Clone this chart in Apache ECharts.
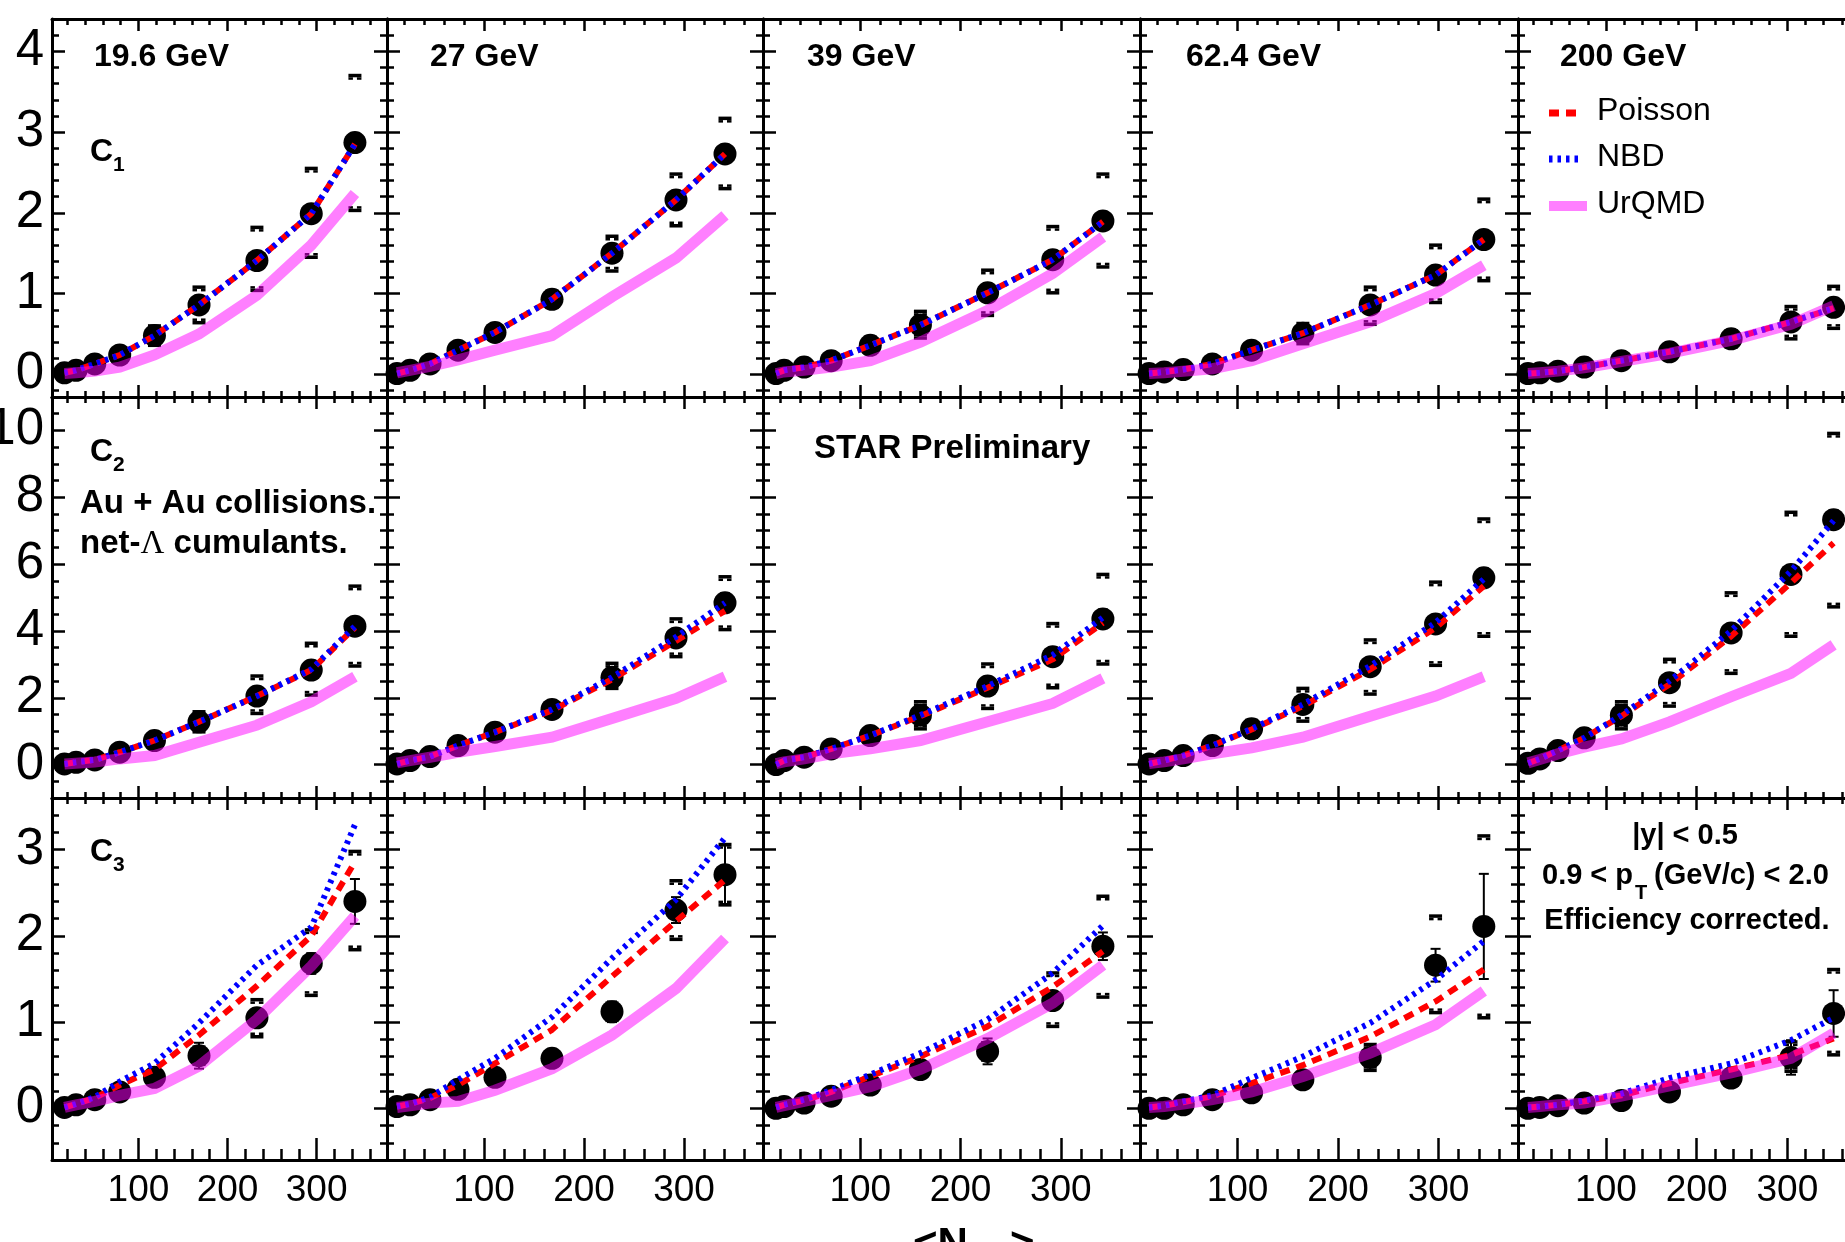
<!DOCTYPE html>
<html><head><meta charset="utf-8">
<script src="https://cdn.jsdelivr.net/npm/echarts@6/dist/echarts.min.js"></script>
<style>html,body{margin:0;padding:0;background:#fff}#c{width:1845px;height:1242px}</style>
</head><body><div id="c"></div>
<script>
// ---------------- data ----------------
const ENERGIES = ['19.6 GeV', '27 GeV', '39 GeV', '62.4 GeV', '200 GeV'];
const CUMULANTS = ['1', '2', '3'];
const X_TICKS = [100, 200, 300];
// <Npart> per energy (9 centralities)
const NPART = [
  [17, 30, 51, 79, 118, 168, 233, 294, 343],
  [13, 26, 46, 74, 111, 168, 228, 292, 341],
  [16, 24, 44, 71, 110, 160, 227, 292, 342],
  [12, 27, 46, 75, 114, 165, 232, 297, 345],
  [14, 27, 47, 76, 117, 170, 238, 304, 351]
];
// C1
const C1_Y = [
  [0.02, 0.05, 0.13, 0.24, 0.48, 0.86, 1.41, 1.99, 2.87],
  [0.01, 0.05, 0.13, 0.30, 0.52, 0.93, 1.50, 2.16, 2.73],
  [0.01, 0.05, 0.09, 0.17, 0.36, 0.61, 1.01, 1.42, 1.90],
  [0.01, 0.03, 0.06, 0.13, 0.30, 0.51, 0.86, 1.23, 1.67],
  [0.01, 0.02, 0.04, 0.09, 0.17, 0.28, 0.44, 0.65, 0.83]
];
const C1_STAT = [
  [0.002, 0.004, 0.008, 0.015, 0.10, 0.04, 0.05, 0.06, 0.07],
  [0.002, 0.004, 0.008, 0.015, 0.03, 0.04, 0.05, 0.06, 0.07],
  [0.002, 0.004, 0.008, 0.015, 0.03, 0.04, 0.05, 0.06, 0.07],
  [0.002, 0.004, 0.008, 0.015, 0.03, 0.04, 0.05, 0.06, 0.07],
  [0.002, 0.004, 0.008, 0.015, 0.03, 0.04, 0.05, 0.06, 0.07]
];
const C1_SYS_UP = [
  [0.005, 0.01, 0.03, 0.06, 0.12, 0.22, 0.41, 0.56, 0.83],
  [0.005, 0.01, 0.03, 0.06, 0.08, 0.10, 0.21, 0.32, 0.44],
  [0.005, 0.01, 0.03, 0.05, 0.10, 0.17, 0.28, 0.41, 0.58],
  [0.005, 0.01, 0.02, 0.04, 0.07, 0.12, 0.22, 0.37, 0.50],
  [0.005, 0.01, 0.01, 0.02, 0.04, 0.06, 0.10, 0.19, 0.26]
];
const C1_SYS_DN = [
  [0.005, 0.01, 0.03, 0.06, 0.12, 0.22, 0.37, 0.54, 0.84],
  [0.005, 0.01, 0.03, 0.06, 0.08, 0.10, 0.22, 0.32, 0.43],
  [0.005, 0.01, 0.03, 0.05, 0.10, 0.16, 0.28, 0.41, 0.57],
  [0.005, 0.01, 0.02, 0.04, 0.07, 0.13, 0.24, 0.34, 0.51],
  [0.005, 0.01, 0.01, 0.02, 0.04, 0.06, 0.10, 0.21, 0.26]
];
const C1_POISSON = [
  [0.02, 0.05, 0.13, 0.24, 0.48, 0.86, 1.41, 1.99, 2.85],
  [0.01, 0.05, 0.13, 0.30, 0.52, 0.93, 1.50, 2.16, 2.73],
  [0.01, 0.05, 0.09, 0.17, 0.36, 0.61, 1.01, 1.42, 1.89],
  [0.01, 0.03, 0.06, 0.13, 0.30, 0.51, 0.86, 1.23, 1.67],
  [0.01, 0.02, 0.04, 0.09, 0.17, 0.28, 0.44, 0.65, 0.82]
];
const C1_NBD = [
  [0.02, 0.05, 0.13, 0.24, 0.48, 0.86, 1.41, 1.99, 2.85],
  [0.01, 0.05, 0.13, 0.30, 0.52, 0.93, 1.50, 2.16, 2.73],
  [0.01, 0.05, 0.09, 0.17, 0.36, 0.61, 1.01, 1.42, 1.89],
  [0.01, 0.03, 0.06, 0.13, 0.30, 0.51, 0.86, 1.23, 1.67],
  [0.01, 0.02, 0.04, 0.09, 0.17, 0.28, 0.44, 0.65, 0.82]
];
const C1_URQMD = [
  [0.01, 0.02, 0.04, 0.09, 0.24, 0.50, 0.98, 1.60, 2.24],
  [0.02, 0.05, 0.10, 0.18, 0.30, 0.48, 0.96, 1.44, 1.97],
  [0.01, 0.03, 0.05, 0.09, 0.17, 0.40, 0.79, 1.25, 1.70],
  [0.01, 0.02, 0.04, 0.07, 0.17, 0.38, 0.65, 1.00, 1.35],
  [0.01, 0.02, 0.04, 0.08, 0.16, 0.26, 0.42, 0.62, 0.85]
];
// C2
const C2_Y = [
  [0.02, 0.07, 0.14, 0.37, 0.72, 1.28, 2.05, 2.83, 4.14],
  [0.02, 0.12, 0.24, 0.57, 0.97, 1.65, 2.61, 3.79, 4.84],
  [0.00, 0.12, 0.22, 0.47, 0.87, 1.48, 2.35, 3.23, 4.36],
  [0.02, 0.12, 0.27, 0.57, 1.07, 1.80, 2.93, 4.21, 5.59],
  [0.04, 0.17, 0.42, 0.80, 1.48, 2.45, 3.94, 5.69, 7.33]
];
const C2_STAT = [
  [0.005, 0.01, 0.02, 0.04, 0.08, 0.30, 0.15, 0.20, 0.25],
  [0.005, 0.01, 0.02, 0.04, 0.08, 0.12, 0.18, 0.22, 0.28],
  [0.005, 0.01, 0.02, 0.04, 0.08, 0.12, 0.18, 0.22, 0.28],
  [0.005, 0.01, 0.02, 0.04, 0.25, 0.12, 0.18, 0.22, 0.28],
  [0.005, 0.01, 0.02, 0.04, 0.08, 0.12, 0.18, 0.22, 0.28]
];
const C2_SYS_UP = [
  [0.01, 0.03, 0.05, 0.08, 0.15, 0.30, 0.60, 0.80, 1.20],
  [0.01, 0.03, 0.05, 0.08, 0.12, 0.20, 0.42, 0.57, 0.78],
  [0.01, 0.03, 0.05, 0.10, 0.20, 0.40, 0.66, 0.99, 1.33],
  [0.01, 0.03, 0.06, 0.12, 0.25, 0.48, 0.80, 1.25, 1.76],
  [0.01, 0.04, 0.10, 0.20, 0.40, 0.70, 1.20, 1.86, 2.58]
];
const C2_SYS_DN = [
  [0.01, 0.03, 0.05, 0.08, 0.15, 0.30, 0.52, 0.75, 1.19],
  [0.01, 0.03, 0.05, 0.08, 0.12, 0.20, 0.33, 0.56, 0.80],
  [0.01, 0.03, 0.05, 0.10, 0.20, 0.41, 0.67, 0.93, 1.35],
  [0.01, 0.03, 0.06, 0.12, 0.25, 0.50, 0.82, 1.24, 1.75],
  [0.01, 0.04, 0.10, 0.20, 0.41, 0.70, 1.21, 1.85, 2.61]
];
const C2_POISSON = [
  [0.02, 0.07, 0.14, 0.37, 0.72, 1.28, 2.05, 2.83, 4.10],
  [0.02, 0.12, 0.24, 0.57, 0.97, 1.62, 2.55, 3.70, 4.60],
  [0.00, 0.12, 0.22, 0.47, 0.87, 1.45, 2.30, 3.15, 4.24],
  [0.02, 0.12, 0.27, 0.57, 1.05, 1.75, 2.85, 4.09, 5.34],
  [0.04, 0.17, 0.42, 0.80, 1.45, 2.40, 3.84, 5.44, 6.63]
];
const C2_NBD = [
  [0.02, 0.07, 0.14, 0.37, 0.72, 1.28, 2.05, 2.85, 4.14],
  [0.02, 0.12, 0.24, 0.57, 0.97, 1.65, 2.61, 3.82, 4.84],
  [0.00, 0.12, 0.22, 0.47, 0.87, 1.48, 2.35, 3.28, 4.40],
  [0.02, 0.12, 0.27, 0.57, 1.07, 1.80, 2.95, 4.25, 5.55],
  [0.04, 0.17, 0.42, 0.80, 1.48, 2.50, 4.00, 5.79, 7.30]
];
const C2_URQMD = [
  [0.02, 0.04, 0.08, 0.17, 0.27, 0.67, 1.18, 1.88, 2.63],
  [0.05, 0.12, 0.22, 0.37, 0.54, 0.82, 1.38, 1.98, 2.63],
  [0.03, 0.08, 0.17, 0.32, 0.47, 0.72, 1.28, 1.83, 2.58],
  [0.03, 0.08, 0.17, 0.32, 0.50, 0.82, 1.45, 2.05, 2.63],
  [0.05, 0.15, 0.32, 0.52, 0.77, 1.28, 2.03, 2.73, 3.58]
];
// C3
const C3_Y = [
  [0.01, 0.04, 0.10, 0.19, 0.36, 0.61, 1.05, 1.68, 2.40],
  [0.02, 0.04, 0.10, 0.22, 0.36, 0.58, 1.12, 2.30, 2.71],
  [0.00, 0.02, 0.06, 0.14, 0.27, 0.45, 0.66, 1.25, 1.88],
  [0.00, 0.00, 0.04, 0.10, 0.18, 0.33, 0.59, 1.66, 2.11],
  [0.00, 0.01, 0.03, 0.06, 0.09, 0.19, 0.35, 0.59, 1.10]
];
const C3_STAT = [
  [0.002, 0.005, 0.01, 0.02, 0.04, 0.15, 0.06, 0.12, 0.26],
  [0.002, 0.005, 0.01, 0.02, 0.04, 0.06, 0.12, 0.15, 0.34],
  [0.002, 0.005, 0.01, 0.02, 0.04, 0.06, 0.15, 0.08, 0.16],
  [0.002, 0.005, 0.01, 0.02, 0.04, 0.06, 0.15, 0.19, 0.61],
  [0.002, 0.005, 0.01, 0.02, 0.03, 0.05, 0.08, 0.20, 0.27]
];
const C3_SYS_UP = [
  [0.005, 0.01, 0.02, 0.03, 0.05, 0.10, 0.21, 0.39, 0.58],
  [0.005, 0.01, 0.02, 0.03, 0.05, 0.07, 0.10, 0.34, 0.35],
  [0.005, 0.01, 0.02, 0.03, 0.05, 0.07, 0.10, 0.32, 0.58],
  [0.005, 0.01, 0.02, 0.03, 0.05, 0.08, 0.15, 0.57, 1.05],
  [0.005, 0.01, 0.02, 0.03, 0.04, 0.06, 0.08, 0.18, 0.51]
];
const C3_SYS_DN = [
  [0.005, 0.01, 0.02, 0.03, 0.05, 0.10, 0.22, 0.37, 0.56],
  [0.005, 0.01, 0.02, 0.03, 0.05, 0.07, 0.10, 0.34, 0.35],
  [0.005, 0.01, 0.02, 0.03, 0.05, 0.07, 0.10, 0.30, 0.59],
  [0.005, 0.01, 0.02, 0.03, 0.05, 0.08, 0.15, 0.55, 1.06],
  [0.005, 0.01, 0.02, 0.03, 0.04, 0.06, 0.08, 0.16, 0.48]
];
const C3_POISSON = [
  [0.01, 0.05, 0.12, 0.27, 0.45, 0.85, 1.42, 2.00, 2.86],
  [0.02, 0.05, 0.12, 0.27, 0.52, 0.91, 1.53, 2.17, 2.65],
  [0.01, 0.04, 0.09, 0.19, 0.37, 0.60, 0.95, 1.41, 1.82],
  [0.01, 0.03, 0.07, 0.14, 0.29, 0.50, 0.83, 1.24, 1.61],
  [0.01, 0.02, 0.04, 0.08, 0.15, 0.29, 0.45, 0.62, 0.81]
];
const C3_NBD = [
  [0.01, 0.05, 0.13, 0.31, 0.52, 0.99, 1.66, 2.10, 3.29],
  [0.02, 0.05, 0.13, 0.33, 0.58, 1.06, 1.74, 2.42, 3.14],
  [0.01, 0.04, 0.10, 0.21, 0.39, 0.64, 1.03, 1.57, 2.12],
  [0.01, 0.03, 0.08, 0.15, 0.35, 0.60, 0.99, 1.49, 1.94],
  [0.01, 0.02, 0.04, 0.09, 0.17, 0.35, 0.52, 0.79, 1.05]
];
const C3_URQMD = [
  [0.01, 0.04, 0.08, 0.15, 0.23, 0.49, 1.03, 1.65, 2.23],
  [0.01, 0.03, 0.06, 0.08, 0.21, 0.46, 0.85, 1.39, 1.97],
  [0.01, 0.03, 0.08, 0.15, 0.25, 0.45, 0.81, 1.22, 1.66],
  [0.01, 0.02, 0.05, 0.10, 0.19, 0.37, 0.64, 0.97, 1.36],
  [0.01, 0.02, 0.04, 0.06, 0.14, 0.26, 0.41, 0.58, 0.87]
];

// ---------------- layout ----------------
const COLS = [
  {left: 52, width: 335}, {left: 387, width: 376}, {left: 763, width: 377},
  {left: 1140, width: 378}, {left: 1518, width: 341}
];
const ROWS = [
  {top: 19, height: 378, min: -0.28, max: 4.4, minorSplit: 5},
  {top: 397, height: 401, min: -1, max: 11, minorSplit: 4},
  {top: 798, height: 362, min: -0.6, max: 3.6, minorSplit: 5}
];
const X_MIN = 3, X_MAX = 379;
const FONT = '"Liberation Sans", Arial, Helvetica, sans-serif';

const Y = [C1_Y, C2_Y, C3_Y];
const STAT = [C1_STAT, C2_STAT, C3_STAT];
const SYS_UP = [C1_SYS_UP, C2_SYS_UP, C3_SYS_UP];
const SYS_DN = [C1_SYS_DN, C2_SYS_DN, C3_SYS_DN];
const POIS = [C1_POISSON, C2_POISSON, C3_POISSON];
const NBD = [C1_NBD, C2_NBD, C3_NBD];
const URQ = [C1_URQMD, C2_URQMD, C3_URQMD];

const grids = [], xAxes = [], yAxes = [], series = [];
const black = '#000';

// systematic-error bracket: filled bar with two short legs pointing to the point
function bracket(px, py, dir) {
  const w = 6.5, bar = 3.5, leg = 2.5, lw = 4.5;
  const fill = {fill: black};
  const y0 = py - bar / 2;
  const legY = dir < 0 ? py + bar / 2 : py - bar / 2 - leg;
  return [
    {type: 'rect', shape: {x: px - w, y: y0, width: 2 * w, height: bar}, style: fill},
    {type: 'rect', shape: {x: px - w, y: legY, width: lw, height: leg}, style: fill},
    {type: 'rect', shape: {x: px + w - lw, y: legY, width: lw, height: leg}, style: fill}
  ];
}
function sysRender(params, api) {
  const x = api.value(0), y = api.value(1), up = api.value(2), dn = api.value(3);
  const hi = api.coord([x, y + up]), lo = api.coord([x, y - dn]);
  return {type: 'group', children: bracket(hi[0], hi[1], -1).concat(bracket(lo[0], lo[1], 1))};
}
function statRender(params, api) {
  const x = api.value(0), y = api.value(1), e = api.value(2);
  const hi = api.coord([x, y + e]), lo = api.coord([x, y - e]);
  const w = 5;
  const st = {stroke: black, lineWidth: 2};
  return {type: 'group', children: [
    {type: 'line', shape: {x1: hi[0], y1: hi[1], x2: lo[0], y2: lo[1]}, style: st},
    {type: 'line', shape: {x1: hi[0] - w, y1: hi[1], x2: hi[0] + w, y2: hi[1]}, style: st},
    {type: 'line', shape: {x1: lo[0] - w, y1: lo[1], x2: lo[0] + w, y2: lo[1]}, style: st}
  ]};
}

for (let r = 0; r < 3; r++) {
  for (let c = 0; c < 5; c++) {
    const g = r * 5 + c;
    grids.push({left: COLS[c].left, width: COLS[c].width, top: ROWS[r].top, height: ROWS[r].height,
      containLabel: false, outerBoundsMode: 'none'});
    const bottomLong = r === 2;
    const xBase = (pos, labels, tl, ml) => ({
      gridIndex: g, type: 'value', min: X_MIN, max: X_MAX, position: pos,
      axisLine: {show: true, onZero: false, lineStyle: {color: black, width: 3}},
      axisTick: {show: true, inside: true, length: tl, lineStyle: {color: black, width: 2.5}},
      minorTick: {show: true, splitNumber: 5, length: ml, lineStyle: {color: black, width: 2.5}},
      splitLine: {show: false}, minorSplitLine: {show: false},
      axisLabel: {show: labels, color: black, fontSize: 37, fontFamily: FONT, margin: 12,
        showMinLabel: false, showMaxLabel: false,
        formatter: v => (X_TICKS.indexOf(v) >= 0 ? String(v) : '')}
    });
    xAxes.push(xBase('bottom', bottomLong, bottomLong ? 22 : 12, bottomLong ? 11 : 6));
    xAxes.push(xBase('top', false, 12, 6));
    const yBase = (pos, labels) => ({
      gridIndex: g, type: 'value', min: ROWS[r].min, max: ROWS[r].max, position: pos,
      axisLine: {show: true, onZero: false, lineStyle: {color: black, width: 3}},
      axisTick: {show: true, inside: true, length: 13, lineStyle: {color: black, width: 2.5}},
      minorTick: {show: true, splitNumber: ROWS[r].minorSplit, length: 7, lineStyle: {color: black, width: 2.5}},
      splitLine: {show: false}, minorSplitLine: {show: false},
      axisLabel: {show: labels, color: black, fontSize: 51, fontFamily: FONT, margin: 8,
        showMinLabel: false, showMaxLabel: false}
    });
    yAxes.push(yBase('left', c === 0));
    yAxes.push(yBase('right', false));

    const xs = NPART[c];
    const ax = {xAxisIndex: 2 * g, yAxisIndex: 2 * g};
    series.push(Object.assign({type: 'custom', coordinateSystem: 'cartesian2d', silent: true, z: 2,
      renderItem: sysRender, encode: {x: 0, y: 1},
      data: xs.map((x, i) => [x, Y[r][c][i], SYS_UP[r][c][i], SYS_DN[r][c][i]])}, ax));
    series.push(Object.assign({type: 'custom', coordinateSystem: 'cartesian2d', silent: true, z: 3,
      renderItem: statRender, encode: {x: 0, y: 1},
      data: xs.map((x, i) => [x, Y[r][c][i], STAT[r][c][i]])}, ax));
    series.push(Object.assign({type: 'scatter', silent: true, z: 4, symbol: 'circle', symbolSize: 23,
      itemStyle: {color: black, opacity: 1},
      data: xs.map((x, i) => [x, Y[r][c][i]])}, ax));
    series.push(Object.assign({type: 'line', silent: true, z: 5, symbol: 'none', smooth: false,
      lineStyle: {color: '#ff0000', width: 6, type: [10, 7], cap: 'butt'},
      data: xs.map((x, i) => [x, POIS[r][c][i]])}, ax));
    series.push(Object.assign({type: 'line', silent: true, z: 6, symbol: 'none', smooth: false,
      lineStyle: {color: '#0000ff', width: 6, type: [3.5, 5], cap: 'butt'},
      data: xs.map((x, i) => [x, NBD[r][c][i]])}, ax));
    series.push(Object.assign({type: 'line', silent: true, z: 7, symbol: 'none', smooth: false,
      lineStyle: {color: '#ff00ff', width: 11, opacity: 0.5, join: 'miter'},
      data: xs.map((x, i) => [x, URQ[r][c][i]])}, ax));
  }
}

// ---------------- texts ----------------
function T(x, y, text, font, align) {
  align = align || 'left';
  return {type: 'text', x: x, y: y, silent: true, z: 100,
    style: {text: text, font: font, fill: black, align: align, textAlign: align,
      verticalAlign: 'middle', textVerticalAlign: 'middle'}};
}
const B32 = 'bold 33px ' + FONT;
const B29 = 'bold 29px ' + FONT;
const R32 = '32px ' + FONT;
const energyX = [94, 430, 807, 1186, 1560];
const graphics = [];
ENERGIES.forEach((e, i) => graphics.push(T(energyX[i], 57.5, e, 'bold 32px ' + FONT)));
const cY = [152.5, 452.5, 852];
CUMULANTS.forEach((k, i) => {
  graphics.push(T(90, cY[i], 'C', 'bold 32px ' + FONT));
  graphics.push(T(113, cY[i] + 13, k, 'bold 21px ' + FONT));
});
graphics.push(T(80, 504, 'Au + Au collisions.', B32));
graphics.push({type: 'text', x: 80, y: 544, silent: true, z: 100,
  style: {text: 'net-{l|Λ} cumulants.', font: B32, fill: black, align: 'left', textAlign: 'left',
    verticalAlign: 'middle', textVerticalAlign: 'middle',
    rich: {l: {fontFamily: '"Liberation Serif", serif', fontWeight: 'normal', fontSize: 33, fill: black, color: black}}}});
graphics.push(T(814, 449, 'STAR Preliminary', B32));
// legend
graphics.push({type: 'line', silent: true, z: 100, shape: {x1: 1549, y1: 113, x2: 1583, y2: 113},
  style: {stroke: '#ff0000', lineWidth: 7, lineDash: [10, 7]}});
graphics.push({type: 'line', silent: true, z: 100, shape: {x1: 1549, y1: 159, x2: 1583, y2: 159},
  style: {stroke: '#0000ff', lineWidth: 7, lineDash: [3.5, 5]}});
graphics.push({type: 'line', silent: true, z: 100, shape: {x1: 1549, y1: 206, x2: 1587, y2: 206},
  style: {stroke: 'rgba(255,0,255,0.5)', lineWidth: 10}});
graphics.push(T(1597, 111, 'Poisson', R32));
graphics.push(T(1597, 157.5, 'NBD', R32));
graphics.push(T(1597, 204, 'UrQMD', R32));
// cuts
graphics.push(T(1685, 836, '|y| < 0.5', B29, 'center'));
graphics.push(T(1542, 876, '0.9 < p', B29));
graphics.push(T(1635, 893, 'T', 'bold 20px ' + FONT));
graphics.push(T(1654, 876, '(GeV/c) < 2.0', B29));
graphics.push(T(1687, 921, 'Efficiency corrected.', B29, 'center'));
// x-axis title (mostly below the visible area)
graphics.push(T(913, 1245, '<N', 'bold 42px ' + FONT));
graphics.push(T(966, 1262, 'part', 'bold 28px ' + FONT));
graphics.push(T(1010, 1245, '>', 'bold 42px ' + FONT));

const chart = echarts.init(document.getElementById('c'), null, {renderer: 'canvas'});
chart.setOption({
  animation: false,
  backgroundColor: '#fff',
  grid: grids, xAxis: xAxes, yAxis: yAxes, series: series,
  graphic: {elements: graphics}
});
</script></body></html>
